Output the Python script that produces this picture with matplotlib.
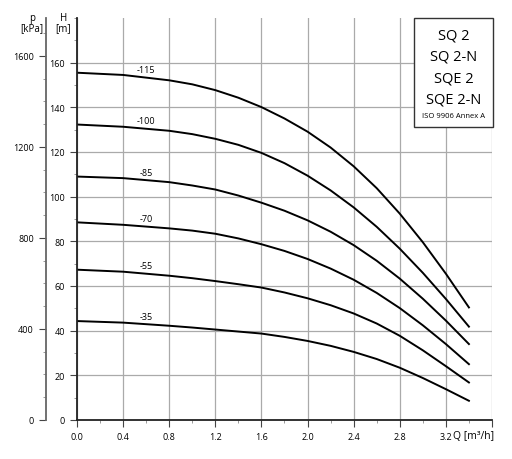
import numpy as np
import matplotlib
matplotlib.use('Agg')
import matplotlib.pyplot as plt
from matplotlib.ticker import MultipleLocator

plt.rcParams['font.family'] = ['Open Sans', 'DejaVu Sans']

# flow points [m3/h]
q = [0, 0.4, 0.8, 1.0, 1.2, 1.4, 1.6, 1.8, 2.0, 2.2, 2.4, 2.6, 2.8, 3.0, 3.2, 3.4]

# head [m] per pump variant
h_115 = [155.5, 154.5, 152.1, 150.3, 147.7, 144.3, 140.1, 135.0, 129.1, 122.0, 113.6, 103.8, 92.4, 79.6, 65.5, 50.4]
h_100 = [132.3, 131.3, 129.5, 128.0, 125.9, 123.2, 119.6, 115.0, 109.4, 102.8, 95.2, 86.5, 76.7, 65.9, 54.2, 41.8]
h_85 = [109.0, 108.3, 106.5, 105.0, 103.2, 100.5, 97.3, 93.7, 89.4, 84.3, 78.3, 71.3, 63.3, 54.3, 44.5, 34.0]
h_70 = [88.5, 87.4, 85.8, 84.8, 83.4, 81.3, 78.7, 75.7, 72.1, 67.8, 62.8, 56.9, 50.1, 42.4, 34.0, 25.0]
h_55 = [67.3, 66.4, 64.6, 63.5, 62.2, 60.8, 59.3, 57.1, 54.5, 51.4, 47.7, 43.2, 37.7, 31.2, 24.1, 16.8]
h_35 = [44.3, 43.6, 42.2, 41.4, 40.5, 39.6, 38.7, 37.2, 35.4, 33.2, 30.5, 27.3, 23.4, 18.8, 13.8, 8.6]

curves = [h_115, h_100, h_85, h_70, h_55, h_35]
names = ['-115', '-100', '-85', '-70', '-55', '-35']
models = ['SQ 2', 'SQ 2-N', 'SQE 2', 'SQE 2-N']

fig = plt.figure(figsize=(5.12, 4.60), dpi=100)
ax = fig.add_axes([0.1504, 0.0848, 0.8105, 0.8739])

for h, nm in zip(curves, names):
    ax.plot(q, h, color='black', lw=1.4, solid_joinstyle='round')
    ax.text(0.6, np.interp(0.6, q, h) + 1.5, nm, fontsize=6.5, ha='center', va='bottom')

ax.set_xlim(0, 3.6)
ax.set_ylim(0, 180)
ax.xaxis.set_minor_locator(MultipleLocator(0.2))
ax.yaxis.set_minor_locator(MultipleLocator(10))
ax.set_yticks(np.arange(0, 161, 20))
ax.set_xticks(np.arange(0, 3.61, 0.4))
ax.set_xticklabels(['%.1f' % v for v in np.arange(0, 3.3, 0.4)] + [''])
ax.grid(True, which='major', color='#aaaaaa', lw=0.9)
ax.tick_params(which='major', length=5, width=0.8, labelsize=6.5, color='#444444')
ax.tick_params(which='minor', length=2.5, width=0.6, color='#888888')
for s in ['top', 'right']:
    ax.spines[s].set_visible(False)
for s in ['left', 'bottom']:
    ax.spines[s].set_linewidth(1.3)
    ax.spines[s].set_color('#222222')

# pressure axis
pax = ax.secondary_yaxis(-0.0754, functions=(lambda h: h * 9.81, lambda p: p / 9.81))
pax.set_yticks([0, 400, 800, 1200, 1600])
pax.yaxis.set_minor_locator(MultipleLocator(100))
pax.tick_params(which='major', length=5, width=0.8, labelsize=6.5, color='#444444')
pax.tick_params(which='minor', length=2.5, width=0.6, color='#888888')
pax.spines['left'].set_linewidth(1.3)
pax.spines['left'].set_color('#666666')

fig.text(77 / 512 - 0.027, 1 - 24 / 460, 'H\n[m]', fontsize=7, ha='center', va='center', linespacing=0.9)
fig.text(32 / 512, 1 - 24 / 460, 'p\n[kPa]', fontsize=7, ha='center', va='center', linespacing=0.9)
fig.text(453 / 512, 1 - 437 / 460, 'Q [m³/h]', fontsize=7.5, ha='left', va='center')

# model box
bx0, bx1, by0, by1 = 414 / 512, 493 / 512, 1 - 128 / 460, 1 - 19 / 460
box = plt.Rectangle((bx0, by0), bx1 - bx0, by1 - by0, transform=fig.transFigure,
                    facecolor='white', edgecolor='#333333', lw=1.0, zorder=5)
fig.patches.append(box)
for i, m in enumerate(models):
    fig.text((bx0 + bx1) / 2, 1 - (36 + 21.3 * i) / 460, m, fontsize=10.5, ha='center', va='center', zorder=6)
fig.text((bx0 + bx1) / 2, 1 - 117 / 460, 'ISO 9906 Annex A', fontsize=5.5, ha='center', va='center', zorder=6)

fig.savefig('out.png', dpi=100)
